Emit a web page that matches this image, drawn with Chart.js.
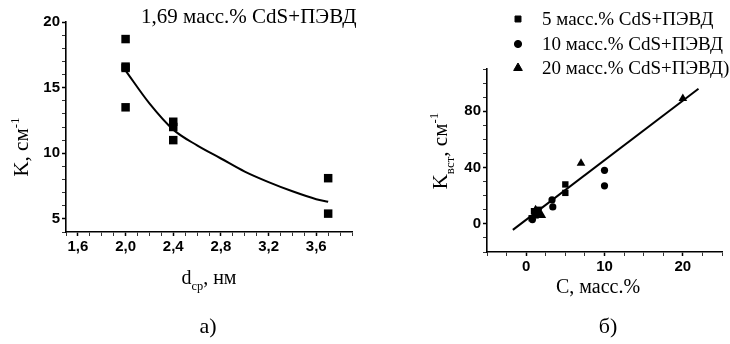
<!DOCTYPE html>
<html>
<head>
<meta charset="utf-8">
<script src="https://cdn.jsdelivr.net/npm/chart.js@4/dist/chart.umd.min.js"></script>
<style>
  body { margin: 0; background: #fff; }
  canvas { position: absolute; top: 0; }
  #chartA { left: 0; }
  #chartB { left: 400px; }
</style>
</head>
<body>
<canvas id="chartA" width="365" height="344"></canvas>
<canvas id="chartB" width="330" height="344"></canvas>
<script>
// panel a) absorption vs mean particle size
const dA = [2.0, 2.0, 2.0, 2.0, 2.4, 2.4, 2.4, 3.7, 3.7];
const kA = [18.7, 16.6, 16.5, 13.5, 12.4, 12.0, 11.0, 8.1, 5.4];
const fitDA = [2.0, 2.2, 2.4, 2.6, 2.8, 3.0, 3.2, 3.4, 3.6, 3.7];
const fitKA = [16.3, 13.8, 11.8, 10.6, 9.6, 8.6, 7.8, 7.1, 6.5, 6.3];
const xTicksA = [1.6, 2.0, 2.4, 2.8, 3.2, 3.6];
const yTicksA = [5, 10, 15, 20];

// panel б) absorption vs concentration
const c5 = [0.7, 1.0, 1.2, 1.6, 5.0, 5.0];
const k5 = [4, 9, 6, 10, 28, 22];
const c10 = [0.8, 1.5, 3.3, 3.4, 10.0, 10.0];
const k10 = [3, 7, 17, 12, 38, 27];
const c20 = [1.2, 2.0, 7.0, 20.0];
const k20 = [10, 6, 43, 89];
const fitC = [-1.7, 22];
const fitK = [-4.3, 96];
const xTicksB = [0, 10, 20];
const yTicksB = [0, 40, 80];
const legendB = ["5 масс.% CdS+ПЭВД", "10 масс.% CdS+ПЭВД", "20 масс.% CdS+ПЭВД)"];

const SERIF = "'Liberation Serif', 'DejaVu Serif', serif";
const SANS = "'Liberation Sans', Arial, sans-serif";

// text with sub/superscript parts
function rich(ctx, parts, cx, cy, size, rot) {
  ctx.save();
  ctx.translate(cx, cy);
  ctx.rotate(rot || 0);
  ctx.fillStyle = "#000";
  ctx.textBaseline = "alphabetic";
  let total = 0;
  parts.forEach(p => {
    ctx.font = (p.sub || p.sup ? size * 0.62 : size) + "px " + SERIF;
    p.w = ctx.measureText(p.t).width;
    total += p.w;
  });
  let x = -total / 2;
  parts.forEach(p => {
    ctx.font = (p.sub || p.sup ? size * 0.62 : size) + "px " + SERIF;
    let dy = size * 0.35;
    if (p.sub) dy += size * 0.3;
    if (p.sup) dy -= size * 0.45;
    ctx.fillText(p.t, x, dy);
    x += p.w;
  });
  ctx.restore();
}

function minorTicks(lo, hi, step) {
  const out = [];
  for (let v = lo; v <= hi + 1e-9; v += step) out.push(Math.round(v * 1000) / 1000);
  return out;
}

function axis(min, max, majors, minorStep, fmt, fit) {
  return {
    type: "linear",
    min: min,
    max: max,
    afterBuildTicks: s => {
      const all = minorTicks(min, max, minorStep);
      s.ticks = all.map(v => ({ value: v, major: majors.some(m => Math.abs(m - v) < 1e-6) }));
    },
    afterFit: fit,
    grid: {
      drawOnChartArea: false,
      tickLength: 4,
      tickColor: "#000",
      tickWidth: c => (c.tick && c.tick.major ? 1.5 : 0.8)
    },
    border: { display: true, color: "#000", width: 1.6 },
    ticks: {
      autoSkip: false,
      maxRotation: 0,
      padding: 2,
      color: "#000",
      font: { family: SANS, size: 15, weight: "bold" },
      callback: function (v) {
        return majors.some(m => Math.abs(m - v) < 1e-6) ? fmt(v) : "";
      }
    }
  };
}

const textA = {
  id: "textA",
  afterDraw(chart) {
    const ctx = chart.ctx;
    ctx.save();
    ctx.fillStyle = "#000";
    ctx.font = "21px " + SERIF;
    ctx.textAlign = "left";
    ctx.fillText("1,69 масс.% CdS+ПЭВД", 141, 23);
    ctx.restore();
    rich(ctx, [{ t: "K, см" }, { t: "-1", sup: true }], 21, 147, 21, -Math.PI / 2);
    rich(ctx, [{ t: "d" }, { t: "ср", sub: true }, { t: ", нм" }], 209, 277, 20);
    rich(ctx, [{ t: "а)" }], 208, 325, 22);
  }
};

const textB = {
  id: "textB",
  afterDraw(chart) {
    const ctx = chart.ctx;
    rich(ctx, [{ t: "K" }, { t: "вст", sub: true }, { t: ", см" }, { t: "-1", sup: true }], 40, 151, 21, -Math.PI / 2);
    rich(ctx, [{ t: "C, масс.%" }], 198, 286, 20);
    rich(ctx, [{ t: "б)" }], 208, 325, 22);
    // legend
    const rows = [19, 44, 68];
    const sizes = [4.2, 3.6, 5];
    chart.data.datasets.slice(0, 3).forEach((ds, i) => {
      Chart.helpers.drawPoint(ctx, {
        pointStyle: ds.pointStyle, radius: sizes[i], borderWidth: 1, rotation: 0
      }, 118, rows[i]);
      ctx.save();
      ctx.fillStyle = "#000";
      ctx.font = "19px " + SERIF;
      ctx.textBaseline = "middle";
      ctx.fillText(legendB[i], 142, rows[i] + 1);
      ctx.restore();
    });
  }
};

function pts(xs, ys) { return xs.map((x, i) => ({ x: x, y: ys[i] })); }

Chart.defaults.animation = false;

new Chart(document.getElementById("chartA"), {
  type: "scatter",
  data: {
    datasets: [
      {
        data: pts(dA, kA),
        pointStyle: "rect",
        pointRadius: 6,
        backgroundColor: "#000",
        borderColor: "#000",
        borderWidth: 0
      },
      {
        type: "line",
        data: pts(fitDA, fitKA),
        borderColor: "#000",
        borderWidth: 2,
        pointRadius: 0,
        cubicInterpolationMode: "monotone",
        fill: false
      }
    ]
  },
  options: {
    responsive: false,
    layout: { padding: { top: 22, right: 13, left: 0, bottom: 0 } },
    plugins: { legend: { display: false }, tooltip: { enabled: false } },
    scales: {
      x: axis(1.5, 3.9, xTicksA, 0.1, v => v.toFixed(1).replace(".", ","), s => { s.height = 112; }),
      y: axis(4, 20, yTicksA, 1, v => String(v), s => { s.width = 66; })
    }
  },
  plugins: [textA]
});

new Chart(document.getElementById("chartB"), {
  type: "scatter",
  data: {
    datasets: [
      { data: pts(c5, k5), pointStyle: "rect", pointRadius: 4.5, backgroundColor: "#000", borderColor: "#000", borderWidth: 0 },
      { data: pts(c10, k10), pointStyle: "circle", pointRadius: 3.6, backgroundColor: "#000", borderColor: "#000", borderWidth: 0 },
      { data: pts(c20, k20), pointStyle: "triangle", pointRadius: 5, backgroundColor: "#000", borderColor: "#000", borderWidth: 0 },
      { type: "line", data: pts(fitC, fitK), borderColor: "#000", borderWidth: 2, pointRadius: 0, fill: false }
    ]
  },
  options: {
    responsive: false,
    layout: { padding: { top: 69, right: 8, left: 0, bottom: 0 } },
    plugins: { legend: { display: false }, tooltip: { enabled: false } },
    scales: {
      x: axis(-5, 25, xTicksB, 2.5, v => String(v), s => { s.height = 92; }),
      y: axis(-20, 110, yTicksB, 10, v => String(v), s => { s.width = 87; })
    }
  },
  plugins: [textB]
});
</script>
</body>
</html>
